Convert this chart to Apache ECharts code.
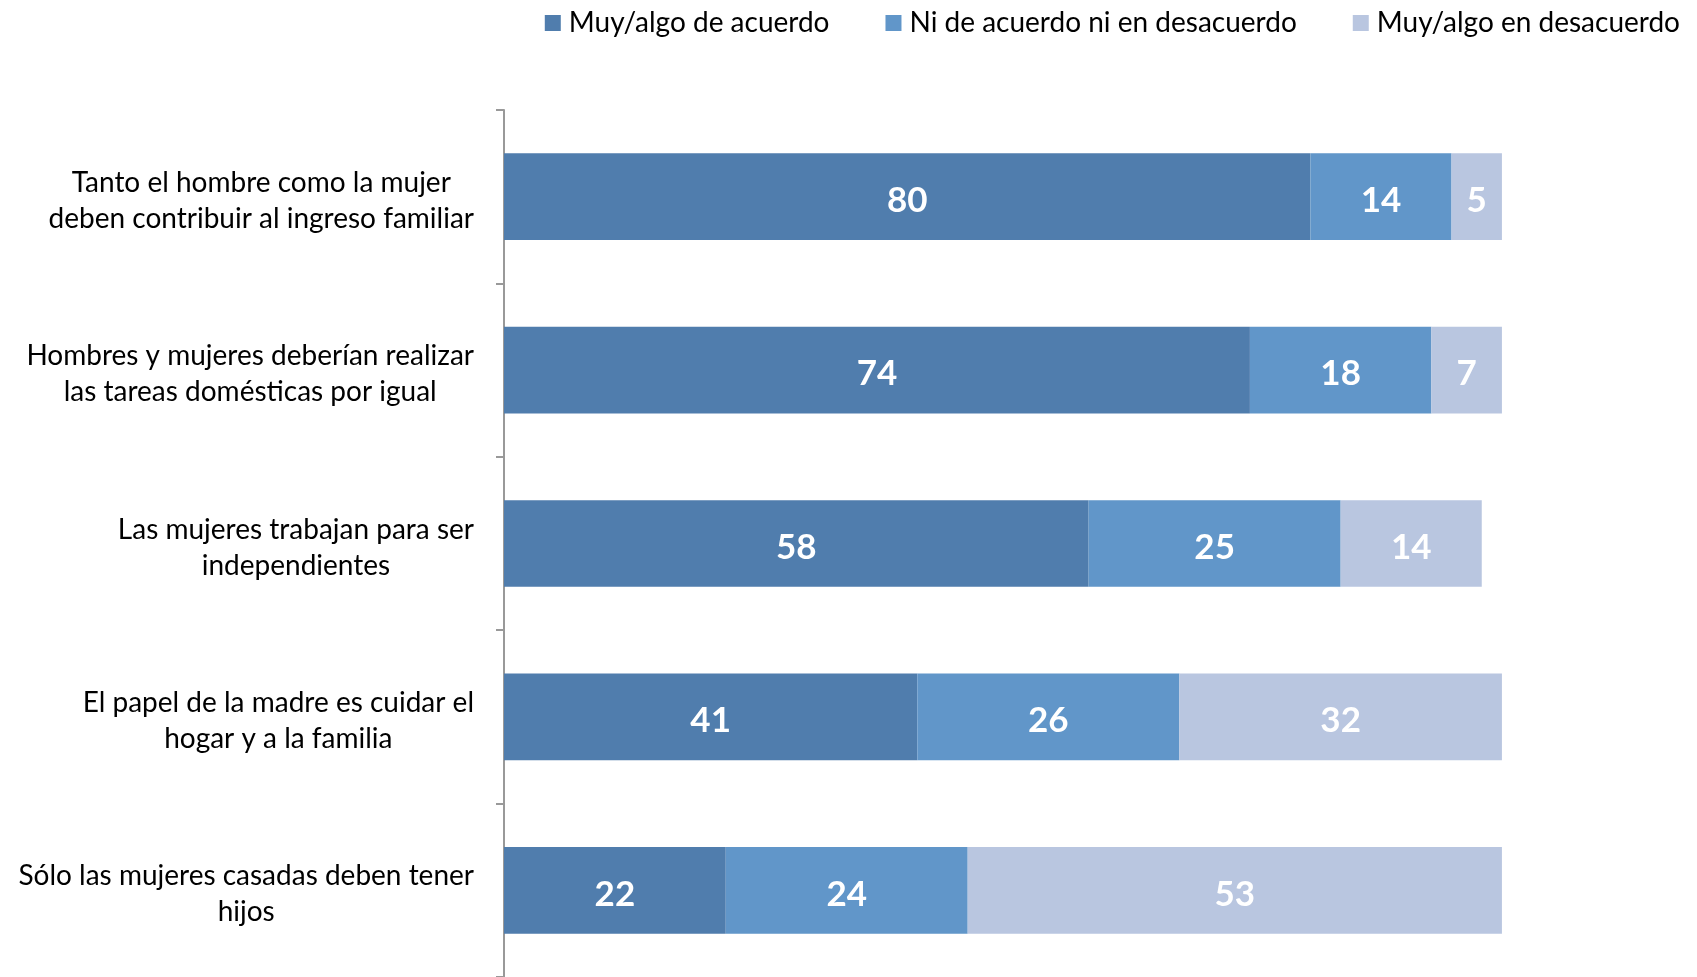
<!DOCTYPE html>
<html>
<head>
<meta charset="utf-8">
<script src="https://cdn.jsdelivr.net/npm/echarts@6/dist/echarts.min.js"></script>
<style>html,body{margin:0;padding:0;background:#fff;}#c{width:1697px;height:977px;}</style>
</head>
<body>
<div id="c"></div>
<script>
const categories = [
  "Tanto el hombre como la mujer\ndeben contribuir al ingreso familiar",
  "Hombres y mujeres deberían realizar\nlas tareas domésticas por igual",
  "Las mujeres trabajan para ser\nindependientes",
  "El papel de la madre es cuidar el\nhogar y a la familia",
  "Sólo las mujeres casadas deben tener\nhijos"
];
const seriesNames = ["Muy/algo de acuerdo", "Ni de acuerdo ni en desacuerdo", "Muy/algo en desacuerdo"];
const acuerdo = [80, 74, 58, 41, 22];
const neutral = [14, 18, 25, 26, 24];
const desacuerdo = [5, 7, 14, 32, 53];
const colors = ["#507DAD", "#6196C9", "#B9C6E0"];

const chart = echarts.init(document.getElementById('c'));
const font = 'Lato, "Open Sans", sans-serif';
function mk(name, data, color) {
  return {
    name: name, type: 'bar', stack: 'total', data: data,
    barCategoryGap: '50%',
    itemStyle: { color: color },
    label: { show: true, position: 'inside', offset: [0, 4], color: '#fff', fontWeight: 'bold', fontSize: 35, fontFamily: font },
    emphasis: { disabled: true }
  };
}
chart.setOption({
  animation: false,
  textStyle: { fontFamily: font },
  legend: {
    top: 4, right: 12, itemWidth: 16, itemHeight: 16, itemGap: 56, icon: 'rect',
    textStyle: { fontSize: 28, color: '#000', fontFamily: font, padding: [0, 0, 0, 3] },
    data: seriesNames
  },
  grid: { left: 504, right: 185, top: 110, bottom: -6, containLabel: false },
  xAxis: { type: 'value', min: 0, max: 100, show: false },
  yAxis: {
    type: 'category', inverse: true, data: categories,
    axisLine: { show: true, lineStyle: { color: '#999', width: 2 } },
    axisTick: { show: true, length: 8, lineStyle: { color: '#999', width: 2 } },
    axisLabel: {
      margin: 30, align: 'right', color: '#000', fontSize: 28, fontFamily: font, lineHeight: 36,
      padding: [8, 0, 0, 0],
      formatter: function (v) { return v.split('\n').map(s => '{a|' + s + '}').join('\n'); },
      rich: { a: { align: 'center', fontSize: 28, lineHeight: 36, color: '#000', fontFamily: font } }
    }
  },
  series: [mk(seriesNames[0], acuerdo, colors[0]), mk(seriesNames[1], neutral, colors[1]), mk(seriesNames[2], desacuerdo, colors[2])]
});
</script>
</body>
</html>
